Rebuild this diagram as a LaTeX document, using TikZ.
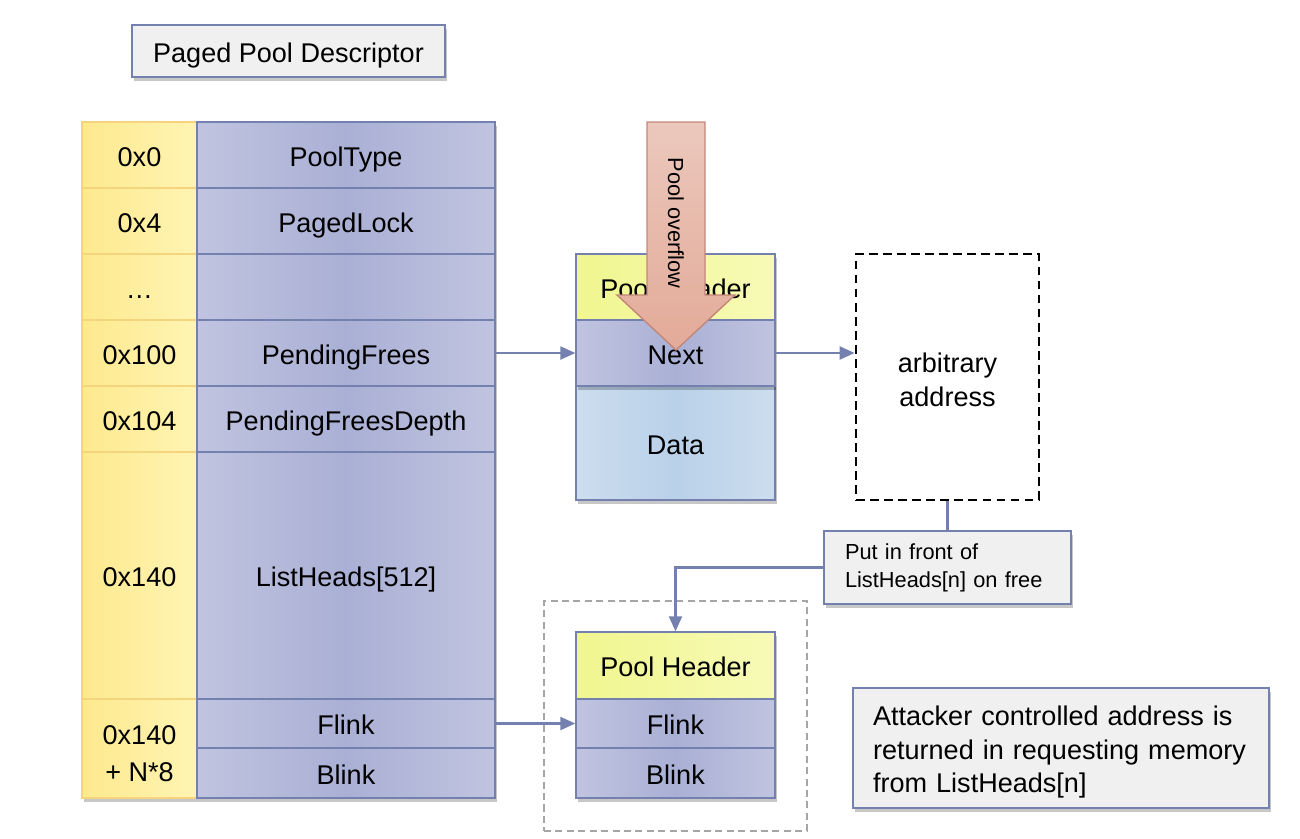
\documentclass[tikz,border=0pt]{standalone}
\usepackage{fontspec}
\setmainfont{Liberation Sans}
\usetikzlibrary{arrows.meta,shadows}
\definecolor{cellblue}{HTML}{AAB0D5}
\definecolor{cellblueL}{HTML}{C0C4E0}
\definecolor{edgeblue}{HTML}{7480AD}
\definecolor{addryellow}{HTML}{FDE98E}
\definecolor{addryellowL}{HTML}{FFF4B3}
\definecolor{addredge}{HTML}{F4D47C}
\definecolor{hdryellow}{HTML}{F0F68F}
\definecolor{hdryellowL}{HTML}{F7FAB6}
\definecolor{datablue}{HTML}{B9D1E9}
\definecolor{datablueL}{HTML}{CCDDEE}
\definecolor{notegray}{HTML}{F0F0F0}
\definecolor{overflowred}{HTML}{E3AA98}
\definecolor{overflowredL}{HTML}{EBC8BC}
\definecolor{overflowedge}{HTML}{C38779}
\newcommand\bodyfont{\fontsize{15.4}{19}\selectfont}
\newcommand\notefont{\fontsize{12.4}{16}\selectfont}

\begin{document}
\begin{tikzpicture}[x=0.02cm, y=-0.02cm,
	lift/.style={drop shadow={shadow xshift=1pt, shadow yshift=-2pt, opacity=0.22, fill=black}},
	oneline/.style={text height=13pt, text depth=0pt},
	addr/.style={draw=addredge, line width=0.8pt, left color=addryellow, right color=addryellowL,
		minimum width=2.3cm, minimum height=1.32cm, inner sep=0pt, align=center, font=\bodyfont},
	cell/.style={draw=edgeblue, line width=0.8pt, left color=cellblueL, right color=cellblueL, middle color=cellblue,
		minimum width=5.96cm, minimum height=1.32cm, inner sep=0pt, font=\bodyfont, oneline},
	chunk/.style={cell, minimum width=3.98cm},
	hdr/.style={chunk, left color=hdryellow, right color=hdryellowL},
	note/.style={draw=edgeblue, line width=0.8pt, fill=notegray, align=left, font=\bodyfont, lift},
	link/.style={draw=edgeblue, line width=1.3pt, -{Triangle[length=0.3cm, width=0.26cm]}}]
		%%%%% START %%%%%
		\useasboundingbox (0, 0) rectangle (1300, 838);
		
		\node[note, oneline, align=center, minimum width=6.26cm, minimum height=1.04cm] (title) at (288.5, 51) {Paged Pool Descriptor};
		
		% descriptor, offsets
		\node[addr, oneline, lift] (a0) at (139.5, 155) {0x0};
		\node[addr, oneline, lift] (a4) at (139.5, 221) {0x4};
		\node[addr, oneline, lift] (adots) at (139.5, 287) {…};
		\node[addr, oneline, lift] (a100) at (139.5, 353) {0x100};
		\node[addr, oneline, lift] (a104) at (139.5, 419) {0x104};
		\node[addr, oneline, lift, minimum height=4.94cm] (a140) at (139.5, 575.5) {0x140};
		\node[addr, lift, minimum height=1.98cm] (aN) at (139.5, 748.5) {};
		\node[font=\bodyfont, align=center, yshift=-0.1cm] (aNtext) at (aN) {0x140\\[2pt]+ N*8};
		
		% descriptor, fields
		\node[cell, lift] (pooltype) at (346, 155) {PoolType};
		\node[cell, lift] (pagedlock) at (346, 221) {PagedLock};
		\node[cell, lift] (gap) at (346, 287) {};
		\node[cell, lift] (pending) at (346, 353) {PendingFrees};
		\node[cell, lift] (depth) at (346, 419) {PendingFreesDepth};
		\node[cell, lift, minimum height=4.94cm] (heads) at (346, 575.5) {ListHeads[512]};
		\node[cell, lift, minimum height=0.98cm] (flink) at (346, 723.5) {Flink};
		\node[cell, lift, minimum height=1.0cm] (blink) at (346, 773) {Blink};
		
		% overflowed chunk
		\node[hdr, lift] (hdr1) at (675.5, 287) {Pool Header};
		\node[chunk, lift, left color=datablueL, right color=datablueL, middle color=datablue, minimum height=2.28cm] (data) at (675.5, 443) {Data};
		\node[chunk, lift] (next) at (675.5, 353) {Next};
		
		\node[draw=black, line width=1.6pt, dash pattern=on 5pt off 3pt, minimum width=3.66cm, minimum height=4.92cm,
			align=center, font=\bodyfont] (dashbox) at (947.5, 377) {};
		\node[font=\bodyfont, align=center, yshift=-0.06cm] (dashtext) at (dashbox) {arbitrary\\address};
		
		\node[note, font=\notefont, inner xsep=0.42cm, text width=4.1cm, minimum height=1.46cm] (putbox) at (947.5, 567.5) {Put in front of\\ListHeads[n] on free};
		
		% chunk on the free list
		\node[draw=black!35, line width=1.2pt, dash pattern=on 4pt off 2.5pt, minimum width=5.26cm, minimum height=4.6cm] (frame) at (675.5, 716) {};
		\node[hdr, lift, minimum height=1.34cm] (hdr2) at (675.5, 665.5) {Pool Header};
		\node[chunk, lift, minimum height=0.98cm] (flink2) at (675.5, 723.5) {Flink};
		\node[chunk, lift, minimum height=1.0cm] (blink2) at (675.5, 773) {Blink};
		
		\node[note, minimum width=8.32cm, minimum height=2.4cm] (attacker) at (1061, 748) {};
		\node[font=\bodyfont, align=left, text width=7.52cm, inner sep=0pt, yshift=-0.08cm] (attackertext) at (attacker) {Attacker controlled address is\\returned in requesting memory\\from ListHeads[n]};
		
		\draw[link] (pending.east) -- (next.west);
		\draw[link] (next.east) -- (next.east -| dashbox.west);
		\draw[draw=edgeblue, line width=1.3pt] (dashbox.south) -- (putbox.north);
		\draw[link] (putbox.west) -| (hdr2.north);
		\draw[link] (flink.east) -- (flink2.west);
		
		% overflow arrow
		\draw[draw=overflowedge, line width=0.8pt, top color=overflowredL, bottom color=overflowred]
			(647, 122) -- (705, 122) -- (705, 295) -- (735, 295) -- (676, 350) -- (617, 295) -- (647, 295) -- cycle;
		\node[rotate=-90, font=\notefont] (overflow) at (676, 223) {Pool overflow};
		%%%%% END %%%%%
	\end{tikzpicture}
\end{document}
